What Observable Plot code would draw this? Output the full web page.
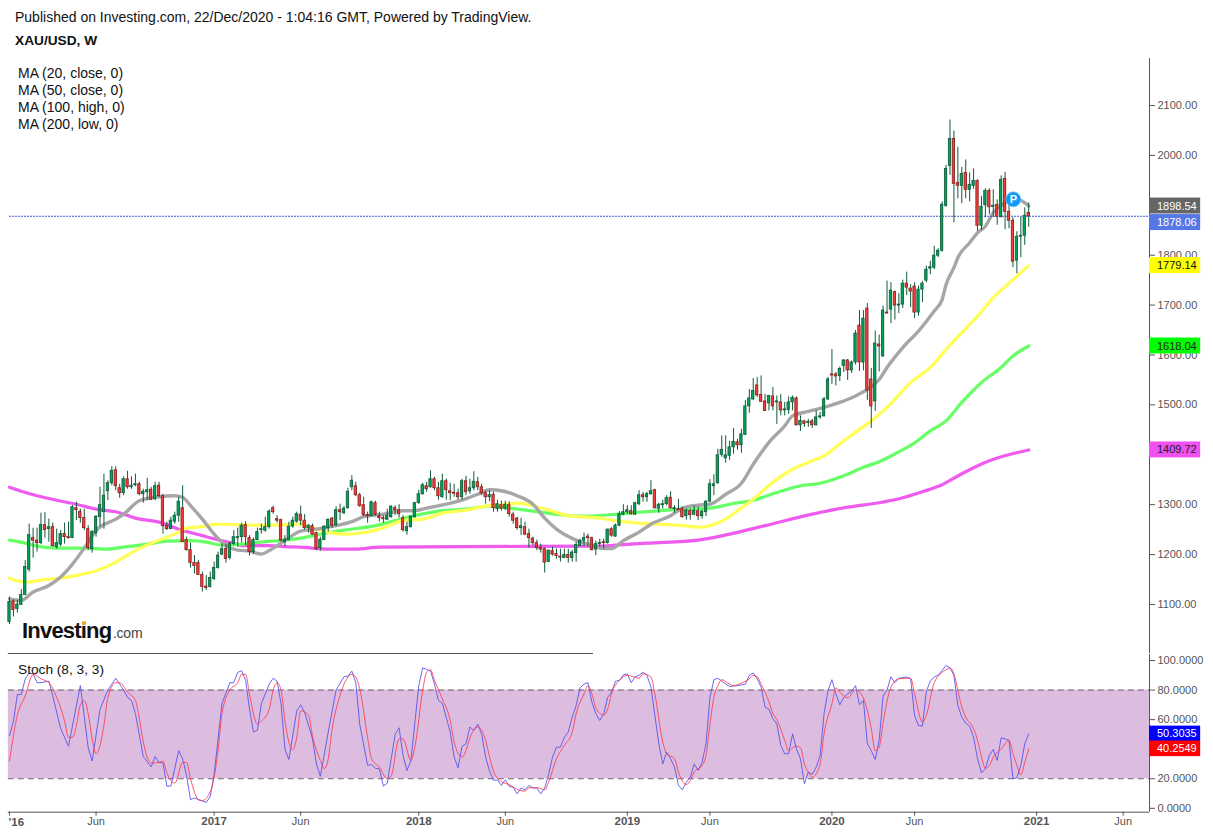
<!DOCTYPE html>
<html><head><meta charset="utf-8">
<script src="https://cdn.jsdelivr.net/npm/d3@7"></script>
<script src="https://cdn.jsdelivr.net/npm/@observablehq/plot@0.6"></script>
<style>
html,body{margin:0;padding:0;background:#fff}
#page{position:relative;width:1213px;height:835px;overflow:hidden;font-family:"Liberation Sans",Arial,sans-serif;color:#111}
#page svg{position:absolute;left:0;overflow:visible}
.t{position:absolute;font-size:14px;line-height:15px;white-space:nowrap;z-index:5}
</style></head><body><div id="page">
<div class="t" style="left:15px;top:10px">Published on Investing.com, 22/Dec/2020 - 1:04:16 GMT, Powered by TradingView.</div>
<div class="t" style="left:15px;top:33px;font-weight:bold;font-size:13.7px">XAU/USD, W</div>
<div class="t" style="left:18px;top:66px">MA (20, close, 0)</div>
<div class="t" style="left:18px;top:83px">MA (50, close, 0)</div>
<div class="t" style="left:18px;top:100px">MA (100, high, 0)</div>
<div class="t" style="left:18px;top:117px">MA (200, low, 0)</div>
<div class="t" style="left:18px;top:662px;font-size:13.7px">Stoch (8, 3, 3)</div>
<div class="t" style="left:22px;top:616.5px;line-height:28px;font-size:22px;font-weight:bold;letter-spacing:-.8px;color:#111">Investing<span style="font-size:14px;font-weight:normal;letter-spacing:-.2px;color:#444;margin-left:1.5px">.com</span></div>
<div style="position:absolute;left:81.5px;top:620.5px;width:4px;height:4px;border-radius:2px;background:#f5a623;z-index:6"></div>
</div>
<script>
const opens=[1065,1106,1091,1099,1119,1170,1233,1228,1223,1259,
1251,1255,1215,1220,1241,1235,1233,1293,1286,1273,
1251,1211,1243,1275,1285,1327,1343,1369,1333,1323,
1351,1335,1339,1341,1321,1325,1330,1311,1338,1317,
1257,1251,1266,1278,1293,1229,1209,1183,1183,1159,
1136,1135,1151,1173,1200,1211,1193,1221,1233,1235,
1259,1233,1205,1229,1249,1248,1255,1293,1271,1269,
1225,1229,1256,1266,1280,1268,1253,1257,1243,1213,
1229,1253,1272,1259,1289,1283,1293,1335,1337,1319,
1299,1279,1277,1303,1277,1273,1270,1275,1293,1289,
1273,1247,1255,1275,1303,1321,1337,1335,1351,1333,
1315,1347,1327,1324,1323,1315,1347,1327,1333,1345,
1335,1323,1315,1320,1291,1299,1292,1299,1280,1272,
1253,1255,1241,1232,1223,1213,1211,1185,1207,1201,
1196,1193,1199,1193,1203,1217,1228,1236,1233,1210,
1221,1225,1223,1251,1236,1258,1280,1285,1287,1280,
1301,1319,1315,1321,1329,1292,1299,1301,1314,1291,
1291,1291,1277,1287,1280,1287,1277,1285,1306,1337,
1343,1400,1393,1398,1415,1425,1419,1440,1497,1511,
1539,1520,1507,1503,1517,1505,1505,1489,1490,1505,
1513,1459,1467,1464,1467,1459,1475,1477,1511,1561,
1561,1558,1578,1589,1569,1585,1659,1585,1693,1551,
1507,1621,1597,1685,1691,1726,1699,1701,1743,1733,
1737,1685,1731,1749,1773,1775,1799,1809,1899,1979,
2033,1945,1939,1965,1931,1939,1949,1859,1900,1929,
1897,1901,1876,1953,1887,1869,1789,1837,1839,1885];
const closes=[1105,1089,1100,1119,1175,1239,1228,1223,1259,1249,
1255,1217,1223,1241,1235,1233,1295,1289,1273,1253,
1213,1245,1276,1299,1318,1343,1368,1337,1323,1351,
1335,1338,1341,1321,1326,1329,1310,1337,1317,1257,
1251,1268,1278,1306,1225,1209,1183,1177,1159,1135,
1133,1153,1173,1198,1211,1191,1221,1235,1235,1258,
1235,1205,1229,1245,1250,1255,1286,1285,1268,1228,
1230,1256,1268,1281,1268,1253,1258,1240,1211,1230,
1256,1270,1258,1289,1285,1292,1326,1348,1319,1297,
1279,1277,1305,1280,1273,1271,1278,1296,1289,1281,
1249,1255,1276,1303,1321,1339,1331,1351,1333,1317,
1347,1329,1323,1323,1315,1347,1325,1333,1346,1335,
1323,1315,1319,1293,1301,1292,1300,1281,1268,1253,
1257,1240,1233,1223,1213,1210,1184,1208,1200,1197,
1195,1199,1193,1204,1219,1227,1233,1233,1209,1221,
1223,1223,1250,1238,1258,1281,1285,1289,1281,1303,
1319,1315,1321,1327,1293,1300,1301,1313,1293,1293,
1290,1275,1288,1279,1288,1277,1286,1306,1341,1341,
1399,1410,1399,1415,1426,1419,1441,1497,1513,1528,
1519,1506,1488,1518,1497,1506,1489,1490,1505,1514,
1459,1468,1462,1466,1459,1475,1477,1511,1551,1560,
1557,1572,1589,1569,1585,1643,1585,1673,1529,1497,
1623,1617,1689,1684,1729,1699,1701,1743,1735,1727,
1685,1731,1743,1771,1776,1799,1809,1901,1973,2033,
1943,1939,1963,1931,1941,1949,1859,1897,1929,1896,
1899,1877,1951,1887,1869,1787,1837,1839,1879,1878.06];
const highs=[1115,1109,1108,1130,1188,1261,1253,1253,1283,1284,
1271,1263,1251,1248,1263,1265,1298,1305,1291,1291,
1258,1248,1278,1335,1361,1348,1376,1376,1341,1356,
1367,1356,1361,1345,1331,1353,1335,1345,1345,1321,
1265,1275,1285,1315,1338,1235,1223,1198,1188,1165,
1158,1165,1185,1205,1221,1221,1225,1248,1253,1263,
1266,1238,1233,1253,1261,1275,1290,1297,1278,1271,
1238,1265,1275,1285,1297,1280,1260,1261,1245,1235,
1258,1271,1275,1296,1301,1296,1333,1358,1345,1323,
1315,1285,1307,1307,1285,1278,1291,1298,1298,1300,
1278,1265,1278,1305,1329,1343,1345,1368,1355,1345,
1361,1351,1343,1341,1331,1351,1357,1351,1366,1355,
1341,1327,1328,1325,1309,1307,1307,1306,1285,1275,
1273,1265,1251,1235,1229,1221,1213,1209,1215,1211,
1211,1211,1211,1208,1225,1231,1243,1241,1235,1227,
1231,1231,1251,1254,1261,1286,1300,1298,1298,1305,
1328,1325,1325,1348,1331,1303,1309,1318,1326,1298,
1311,1295,1291,1291,1297,1295,1289,1308,1350,1360,
1411,1438,1438,1427,1453,1431,1451,1509,1531,1553,
1555,1558,1521,1519,1535,1518,1521,1505,1516,1518,
1516,1478,1469,1471,1471,1488,1485,1515,1555,1611,
1565,1576,1591,1591,1588,1649,1689,1689,1703,1573,
1648,1640,1698,1748,1745,1728,1723,1750,1766,1741,
1745,1738,1747,1778,1788,1818,1813,1907,1980,2071,
2049,2016,1976,1991,1965,1973,1951,1918,1933,1933,
1931,1911,1959,1966,1905,1875,1847,1876,1895,1905];
const lows=[1060,1075,1083,1098,1118,1165,1193,1205,1220,1233,
1225,1215,1211,1216,1221,1231,1232,1268,1263,1248,
1208,1203,1235,1255,1251,1308,1338,1328,1313,1318,
1331,1331,1336,1318,1303,1308,1308,1308,1315,1241,
1248,1250,1261,1265,1225,1207,1173,1161,1158,1125,
1128,1133,1148,1171,1198,1183,1189,1218,1215,1223,
1218,1197,1200,1228,1241,1245,1251,1281,1263,1225,
1216,1228,1253,1263,1258,1249,1243,1238,1208,1207,
1228,1245,1253,1256,1268,1280,1291,1328,1316,1295,
1276,1263,1276,1277,1265,1263,1268,1273,1278,1273,
1245,1239,1253,1273,1301,1319,1325,1333,1328,1309,
1313,1309,1308,1315,1309,1309,1318,1321,1328,1328,
1318,1301,1306,1285,1285,1287,1288,1275,1261,1249,
1238,1238,1213,1218,1208,1203,1163,1184,1197,1191,
1185,1192,1183,1185,1185,1216,1216,1215,1207,1198,
1215,1211,1221,1235,1235,1256,1278,1281,1279,1279,
1298,1305,1305,1319,1291,1283,1291,1298,1291,1283,
1288,1273,1269,1269,1278,1268,1271,1276,1305,1318,
1341,1395,1383,1389,1401,1409,1403,1439,1483,1509,
1515,1505,1487,1488,1488,1461,1478,1478,1481,1488,
1458,1447,1455,1455,1453,1458,1471,1476,1509,1541,
1538,1547,1565,1549,1563,1580,1567,1568,1509,1453,
1487,1566,1596,1683,1663,1670,1683,1693,1719,1695,
1673,1678,1705,1745,1761,1771,1795,1806,1896,1960,
1865,1913,1903,1913,1907,1932,1848,1850,1875,1881,
1876,1860,1875,1851,1853,1775,1763,1795,1820,1856];

const ma20W=[0,3,6,10,13,16,19,22,27,29,33,38,42,44,46,49,52,55,58,61,64,66,70,74,78,83,87,90,95,100,103,106,111,115,119,122,125,129,133,136,139,144,147,150,153,156,160,163,168,171,175,178,182,186,189,193,197,199,203,207,211,215,218,221,223,227,231,235,237,238,240,241,244,246,248,250,253,256,259];
const ma20V=[1111,1108,1125,1138,1155,1181,1213,1248,1271,1281,1308,1316,1318,1315,1298,1271,1241,1218,1209,1207,1201,1208,1228,1247,1251,1258,1266,1276,1281,1288,1288,1293,1301,1309,1321,1330,1328,1318,1301,1273,1251,1229,1221,1213,1212,1228,1245,1261,1278,1293,1299,1301,1321,1343,1381,1425,1458,1478,1487,1495,1505,1518,1531,1551,1575,1615,1648,1688,1711,1741,1775,1795,1825,1845,1858,1885,1905,1912,1898.54];
const ma50W=[0,2,5,8,13,18,21,27,32,38,42,45,49,53,57,64,70,74,77,85,94,100,105,110,116,121,125,129,133,138,142,149,154,160,165,171,176,178,182,185,189,194,199,204,207,212,216,219,223,229,234,238,242,246,250,255,259];
const ma50V=[1153,1147,1145,1149,1153,1160,1165,1185,1208,1229,1241,1253,1256,1261,1260,1259,1260,1261,1253,1241,1251,1268,1271,1283,1289,1297,1299,1303,1298,1287,1278,1274,1268,1263,1261,1258,1255,1258,1271,1288,1311,1345,1371,1388,1398,1428,1451,1468,1495,1545,1575,1611,1645,1678,1715,1751,1779.14];
const ma100W=[0,4,7,12,19,25,29,35,40,46,50,54,59,65,70,74,79,85,93,98,103,110,116,122,127,133,140,145,153,162,169,178,183,189,196,201,206,212,217,221,226,230,234,238,242,247,252,255,259];
const ma100V=[1229,1223,1217,1213,1213,1211,1215,1221,1227,1228,1225,1219,1221,1226,1229,1233,1241,1249,1258,1268,1278,1288,1291,1297,1293,1287,1280,1277,1280,1286,1290,1293,1301,1309,1327,1338,1343,1358,1375,1386,1406,1424,1448,1468,1505,1545,1575,1598,1618.04];
const ma200W=[0,3,7,12,17,22,27,32,38,43,49,55,60,66,70,74,81,88,94,116,150,154,162,175,183,192,204,213,221,226,232,237,242,249,259];
const ma200V=[1335,1327,1318,1309,1301,1291,1286,1273,1265,1251,1238,1226,1218,1218,1216,1215,1211,1211,1215,1216,1217,1219,1223,1229,1241,1258,1281,1295,1304,1312,1326,1340,1362,1388,1409.72];

const stochKW=[0,1,2,3,4,5,6,7,8,10,11,13,15,18,20,21,23,25,27,29,30,31,32,34,36,37,38,39,40,41,43,44,45,46,47,48,50,51,52,54,56,57,58,59,60,61,62,63,64,66,67,68,69,70,71,73,74,75,77,78,79,81,83,85,86,87,88,89,91,92,93,94,95,96,98,99,100,101,102,104,105,106,107,108,109,110,112,113,114,115,116,117,118,119,120,121,122,123,124,125,126,127,128,129,130,131,132,133,134,135,136,137,138,139,140,141,142,143,144,145,146,147,148,149,150,151,152,153,154,155,156,157,158,159,160,161,162,163,165,166,167,168,169,170,171,172,173,174,175,176,177,178,179,180,181,183,185,187,188,189,190,191,192,193,194,195,196,197,198,199,200,201,202,203,204,205,206,207,208,209,210,211,212,213,214,215,216,217,218,219,220,221,222,223,224,225,226,228,229,230,231,232,233,234,235,236,238,239,240,241,242,243,244,245,246,247,248,249,250,251,252,253,254,255,256,257,258,259];
const stochKV=[49,59,77,77,87.6,91.5,91,85,85,86,76,54,42,83,41,32,67,80,88,80,75,73,64,35,28,35,31,30.6,15,15,39,33.5,22,5.8,7,5.8,4,8,23,71,85,85,92,93,86.5,67,51.6,53,70.7,84,88,86,70.7,40,33,66,70,65,47,30,21.6,51.6,80,89,89.4,92.8,85,57,29,29.7,27,26.7,15,17,50,54.5,35.8,25.6,32,83,95,94,92.8,84,73,71,51.6,34.6,27.4,42,43.7,55,52.7,57,50,34.6,25,19,19.3,15.5,19.3,14.8,14.3,9.8,13.7,12.5,15.5,13.7,13.7,9.8,13.7,23,34.6,41.4,41.4,48,51.6,61.7,69.6,81.5,84,85,71.8,64,59.4,64,75,78.6,86,86.5,90.3,91,85,89,90,92,90,82,43.7,30,38,33.5,27.9,15.5,12.5,17.7,21,30,25.6,31,43.7,75,87,88,86,82.4,83,84,90,91.5,87.6,82,68.5,67,60.6,57,42.5,36.9,36.9,50.4,40,33.5,16.6,24.5,23,27.9,35.8,64,79.7,87,77.5,70,75,77.5,79,83,70,73,43.7,39,33,46,76,80,89,85,88,88.8,87.6,62.8,56,55.6,79.3,86,89,90,96.6,95,89.9,69.6,61.7,57.6,55.6,48,33.5,24,26.7,35.8,39.8,32.4,47.7,47,45.9,20,20.7,29,43.7,50.3035];
const stochDW=[0,2,4,6,8,10,12,14,15,16,17,18,19,20,21,22,24,25,27,28,30,32,33,34,36,38,39,40,42,44,45,46,48,49,51,53,54,56,58,59,60,61,63,64,66,67,68,69,70,71,72,73,74,76,77,79,80,81,82,84,85,87,88,89,91,92,94,96,97,99,100,102,103,105,106,107,108,110,112,113,115,116,117,119,121,122,123,125,127,129,131,132,134,136,137,139,141,143,144,146,147,148,149,151,152,153,155,157,160,161,163,164,166,167,169,170,172,173,174,176,177,178,179,180,181,183,184,186,188,189,190,191,193,194,195,197,198,199,200,201,202,203,204,206,207,209,210,211,213,215,217,219,220,221,222,224,226,229,230,232,233,235,238,239,240,241,242,243,245,246,247,248,249,250,252,254,255,256,257,258,259];
const stochDV=[32,63,76,90.6,87.6,85,75,59,48,48,56,70,73,64,47,37,56,75,85,85,78.6,73,60.6,44.8,30.6,31,32,24,17,31,31,20,6,5.3,11,39,64,80,85,90.6,90.6,77,57,59,67,80,85,80,59,44.8,39.6,48,66,63,49,32.4,26.8,33.5,53.8,76.4,84,90.6,88.8,80.9,48,33.5,27.9,20,22,47,47,32.4,41.4,79.7,92,93.7,86.5,74,59.4,44.8,34.6,39,47.7,55,46,34.6,25,18,16,12.8,11.6,13.9,14,12.5,17.7,33.5,42.5,51.6,64,77.5,83,77.5,68,63,67,77.5,86.5,90,88,91,88.8,77.5,44.8,36.9,33.5,24.5,16,18.9,24.5,29,35.8,57,75,83,87,84,83,84.7,87.6,90,89,84,72,64,60,46,39,41,42,41,30,24.5,21,30,50.4,70.7,81.5,78.6,74.8,80,74.6,53.8,39,41.4,58,82,87.6,88,77.5,58.3,63,85,93.7,95,91,79.7,68.5,61.7,53.8,46,34.6,27,29,34.6,40,46,37,29,22.7,31,40.2549];

const yearTicks=[52,104,157,209,261];
const yearLabels=["2017","2018","2019","2020","2021"];
const monthTicks=[22,74,126,178,230,283];
const priceTicks=[1100,1200,1300,1400,1500,1600,1700,1800,1900,2000,2100];
const stochTicks=[0,20,40,60,80,100];
const priceTags=[1898.54,1878.06,1779.14,1618.04,1409.72];
const stochTags=[50.3035,40.2549];

const xEnd=289.7, tagEnd=302.7, tagText=291.6;
const W=1213, FONT='"Liberation Sans",Arial,sans-serif';
const AXIS="#555";
const candles=opens.map((o,i)=>({i,o,c:closes[i],h:highs[i],l:lows[i]}));
const up=d=>d.c>=d.o;
const ser=(w,v)=>v.map((y,k)=>({x:w[k],y}));
const lineOpt=(stroke,w)=>({x:"x",y:"y",stroke,strokeWidth:w,curve:"monotone-x"});

const priceTag=(v,fill,ink,dy)=>[
  Plot.rect([v],{x1:xEnd,x2:tagEnd,y1:d=>d-16,y2:d=>d+16,fill,dy:dy||0}),
  Plot.text([v],{x:tagText,y:d=>d,text:d=>d.toFixed(2),fill:ink,textAnchor:"start",fontSize:11,dy:dy||0})
];

const price=Plot.plot({
  width:W,height:654,marginLeft:9,marginRight:64,marginTop:58,marginBottom:1,
  style:{fontFamily:FONT,fontSize:"11px",background:"transparent",color:AXIS,overflow:"visible"},
  x:{type:"linear",domain:[0,xEnd],axis:null,label:null},
  y:{type:"linear",domain:[1001.8,2194.2],axis:null,label:null},
  marks:[
    Plot.ruleX([xEnd],{stroke:AXIS}),
    Plot.ruleY([1001.8],{x1:-0.3,x2:148.4,stroke:AXIS}),
    Plot.axisY({anchor:"right",label:null,ticks:priceTicks,tickSize:5,tickPadding:3,fontSize:11,
      tickFormat:d=>(d===1900||d===1400)?"":d.toFixed(2),stroke:AXIS,fill:"#555"}),
    Plot.line(ser(ma200W,ma200V),lineOpt("#ee5bee",3.2)),
    Plot.line(ser(ma100W,ma100V),lineOpt("#66ff66",3.2)),
    Plot.line(ser(ma50W,ma50V),lineOpt("#ffff55",3.2)),
    Plot.line(ser(ma20W,ma20V),lineOpt("#a6a6a6",3.4)),
    Plot.ruleY([1878.06],{x1:0,x2:xEnd,stroke:"#3f57c8",strokeDasharray:"2,1"}),
    Plot.ruleX(candles,{x:"i",y1:"l",y2:"h",stroke:"#0f5a3a",strokeWidth:1}),
    Plot.rect(candles,{x1:d=>d.i-.3,x2:d=>d.i+.3,y1:"o",y2:d=>(Math.abs(d.c-d.o)<2?d.o+(up(d)?2:-2):d.c),
      fill:d=>up(d)?"#00a35c":"#f0403c",stroke:d=>up(d)?"#0c5c38":"#8a1c1c",strokeWidth:.8}),
    Plot.dot([[255.1,1912]],{x:d=>d[0],y:d=>d[1],r:7.5,fill:"#0f9bfb",stroke:"#7cc8fb",strokeWidth:.6}),
    Plot.text([[255.1,1912]],{x:d=>d[0],y:d=>d[1],text:()=>"P",fill:"#fff",fontWeight:"bold",fontSize:11}),
    ...priceTag(priceTags[0],"#666666","#fff"),
    ...priceTag(priceTags[1],"#5677e6","#fff",6.3),
    ...priceTag(priceTags[2],"#ffff00","#111"),
    ...priceTag(priceTags[3],"#00ff00","#222"),
    ...priceTag(priceTags[4],"#f050f0","#222")
  ]
});
price.style.top="0";
document.getElementById("page").append(price);

const stochTag=(v,fill)=>[
  Plot.rect([v],{x1:xEnd,x2:tagEnd,y1:d=>d-5.3,y2:d=>d+5.3,fill}),
  Plot.text([v],{x:tagText,y:d=>d,text:d=>d.toFixed(4),fill:"#fff",textAnchor:"start",fontSize:11})
];
const stoch=Plot.plot({
  width:W,height:181,marginLeft:9,marginRight:64,marginTop:0,marginBottom:23.3,
  style:{fontFamily:FONT,fontSize:"11px",background:"transparent",color:AXIS,overflow:"visible"},
  x:{type:"linear",domain:[0,xEnd],axis:null,label:null},
  y:{type:"linear",domain:[-2.64,104.06],axis:null,label:null},
  marks:[
    Plot.rectY([0],{x1:-.3,x2:xEnd,y1:20,y2:80,fill:"#ddbddf"}),
    Plot.ruleY([20,80],{x1:-.3,x2:xEnd,stroke:"#6f5f70",strokeDasharray:"6,4"}),
    Plot.ruleX([xEnd],{stroke:AXIS}),
    Plot.ruleY([-2.64],{x1:-.3,x2:xEnd,stroke:AXIS}),
    Plot.axisY({anchor:"right",label:null,ticks:stochTicks,tickSize:5,tickPadding:3,fontSize:11,
      tickFormat:d=>d.toFixed(4),stroke:AXIS,fill:"#555"}),
    Plot.axisX(yearTicks,{anchor:"bottom",label:null,tickSize:4,tickPadding:1,fontSize:11.5,fontWeight:"bold",
      tickFormat:d=>yearLabels[yearTicks.indexOf(d)],stroke:AXIS,fill:"#555"}),
    Plot.axisX(monthTicks,{anchor:"bottom",label:null,tickSize:4,tickPadding:1,fontSize:11,
      tickFormat:()=>"Jun",stroke:AXIS,fill:"#555"}),
    Plot.ruleX([0],{y1:-2.64,y2:-5.3,stroke:AXIS}),
    Plot.text(["'16"],{x:0,y:-9.6,text:d=>d,textAnchor:"start",dx:-1,fontWeight:"bold",fontSize:11.5,fill:"#555"}),
    Plot.line(ser(stochKW,stochKV),{x:"x",y:"y",stroke:"#4f4ff0",strokeWidth:1,strokeOpacity:.85}),
    Plot.line(ser(stochDW,stochDV),{x:"x",y:"y",stroke:"#ff3a50",strokeWidth:1,strokeOpacity:.85,curve:"monotone-x"}),
    ...stochTag(stochTags[0],"#0000ff"),
    ...stochTag(stochTags[1],"#ff0000")
  ]
});
stoch.style.top="654px";
document.getElementById("page").append(stoch);
</script>
</body></html>
